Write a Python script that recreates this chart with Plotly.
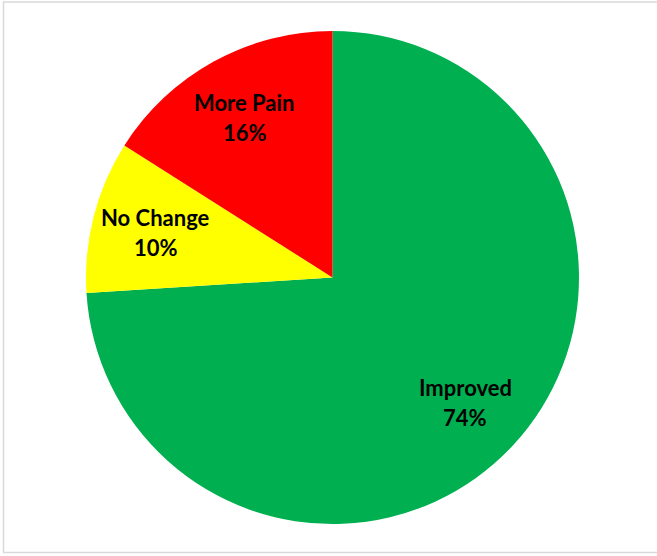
import math
import plotly.graph_objects as go

# Patient-reported outcome shares
categories = ["Improved", "No Change", "More Pain"]
values = [74, 10, 16]
colors = ["#00B050", "#FFFF00", "#FF0000"]

W, H = 657, 556
ml, mr, mt, mb = 86, 78, 31, 32

fig = go.Figure(
    go.Pie(
        labels=categories,
        values=values,
        sort=False,
        direction="clockwise",
        rotation=0,
        marker=dict(colors=colors, line=dict(width=0)),
        textinfo="none",
        hoverinfo="label+percent",
        showlegend=False,
    )
)

# Data labels placed along each slice's mid-angle, Excel style
total = sum(values)
cum = 0
annotations = []
label_font = dict(family="Lato, 'Open Sans', sans-serif", size=22, color="black")
for name, v in zip(categories, values):
    mid = (cum + v / 2) / total * 2 * math.pi
    cum += v
    rr = 0.5 * 0.74
    x = 0.5 + rr * math.sin(mid)
    y = 0.5 + rr * math.cos(mid)
    pct = f"{round(100 * v / total)}%"
    for txt, dy in ((name, 15), (pct, -15)):
        annotations.append(dict(x=x, y=y, xref="paper", yref="paper", text=f"<b>{txt}</b>",
                                xanchor="center", yanchor="middle",
                                showarrow=False, font=label_font, yshift=dy))

pw = W - ml - mr
ph = H - mt - mb
fig.update_layout(
    width=W,
    height=H,
    margin=dict(l=ml, r=mr, t=mt, b=mb),
    paper_bgcolor="white",
    plot_bgcolor="white",
    annotations=annotations,
    shapes=[
        dict(type="rect", xref="paper", yref="paper",
             x0=(3.5 - ml) / pw, x1=(W + 4 - ml) / pw,
             y0=(H - mb - 552.5) / ph, y1=(H - mb - 2) / ph,
             line=dict(color="#D9D9D9", width=1.5), fillcolor="rgba(0,0,0,0)",
             layer="below"),
    ],
)

fig.write_html("out.html")
